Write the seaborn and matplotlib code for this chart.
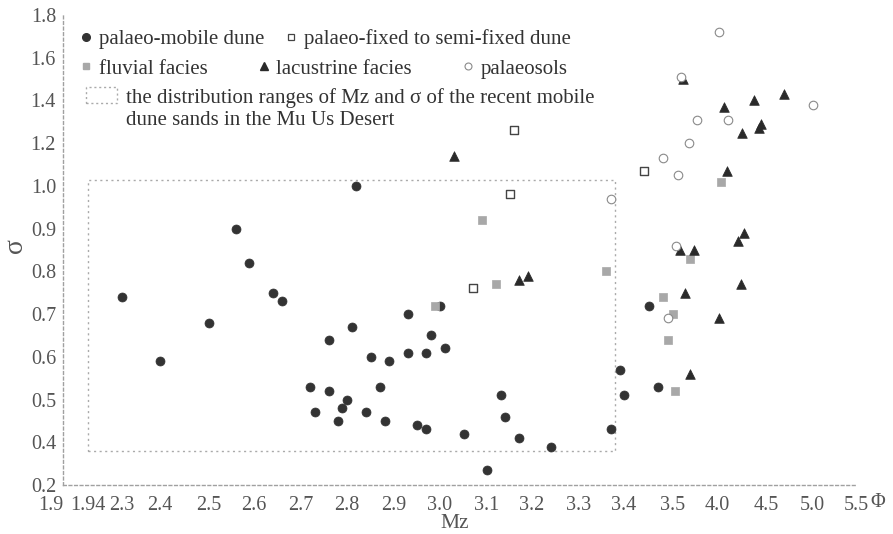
import numpy as np
import pandas as pd
import seaborn as sns
import matplotlib.pyplot as plt
from matplotlib.lines import Line2D
from matplotlib.patches import Patch, Rectangle

# grain size parameters (Mz in phi, sigma)
mobile_mz = [2.30, 2.40, 2.50, 2.56, 2.59, 2.64, 2.66, 2.82, 2.93, 3.00, 2.98, 2.81, 2.76, 2.85,
             2.89, 2.93, 2.97, 3.01, 2.72, 2.76, 2.87, 2.80, 2.79, 2.73, 2.84, 2.78, 2.88, 2.95,
             2.97, 3.13, 3.14, 3.05, 3.17, 3.24, 3.10, 3.39, 3.40, 3.37, 3.45, 3.47]
mobile_sd = [0.74, 0.59, 0.68, 0.90, 0.82, 0.75, 0.73, 1.00, 0.70, 0.72, 0.65, 0.67, 0.64, 0.60,
             0.59, 0.61, 0.61, 0.62, 0.53, 0.52, 0.53, 0.50, 0.48, 0.47, 0.47, 0.45, 0.45, 0.44,
             0.43, 0.51, 0.46, 0.42, 0.41, 0.38, 0.27, 0.57, 0.51, 0.43, 0.72, 0.53]

fixed_mz = [3.16, 3.15, 3.07, 3.44]
fixed_sd = [1.26, 0.98, 0.76, 1.07]

fluvial_mz = [3.09, 3.12, 3.36, 2.99, 4.04, 3.69, 3.48, 3.50, 3.49, 3.52]
fluvial_sd = [0.92, 0.77, 0.80, 0.72, 1.02, 0.83, 0.74, 0.70, 0.64, 0.52]

lacustrine_mz = [3.03, 3.17, 3.19, 3.61, 4.07, 4.38, 4.70, 4.45, 4.43, 4.26, 4.10, 4.28, 4.21,
                 3.58, 3.74, 4.24, 3.64, 4.02, 3.69]
lacustrine_sd = [1.14, 0.78, 0.79, 1.50, 1.37, 1.40, 1.43, 1.29, 1.27, 1.25, 1.07, 0.89, 0.87,
                 0.85, 0.85, 0.77, 0.75, 0.69, 0.56]

palaeosol_mz = [3.37, 4.02, 3.59, 5.01, 3.77, 4.11, 3.68, 3.48, 3.56, 3.53, 3.49]
palaeosol_sd = [0.97, 1.72, 1.51, 1.38, 1.31, 1.31, 1.20, 1.13, 1.05, 0.86, 0.69]

# recent mobile dune range box
box_mz = [1.94, 3.38]
box_sd = [0.36, 1.03]

x_ticks = [1.9, 1.94, 2.3, 2.4, 2.5, 2.6, 2.7, 2.8, 2.9, 3.0, 3.1, 3.2, 3.3, 3.4, 3.5, 4.0, 4.5, 5.0, 5.5]
y_ticks = [0.2, 0.4, 0.5, 0.6, 0.7, 0.8, 0.9, 1.0, 1.2, 1.4, 1.6, 1.8]

# broken axis in the original: where each tick sits along the axis
x_pos = [63, 88, 122, 160, 209, 254, 301, 347, 394, 440, 487, 532, 579, 624, 673, 717, 766, 812, 856]
y_pos = list(range(len(y_ticks)))

sns.set_style("white")
plt.rcParams['font.family'] = ['Liberation Serif', 'DejaVu Serif']

fig = plt.figure(figsize=(8.93, 5.34), dpi=100)
ax = fig.add_axes([63 / 893, 49 / 534, 793 / 893, 470 / 534])

ax.set_xscale('function', functions=(lambda v: np.interp(v, x_ticks, x_pos),
                                     lambda p: np.interp(p, x_pos, x_ticks)))
ax.set_yscale('function', functions=(lambda v: np.interp(v, y_ticks, y_pos),
                                     lambda p: np.interp(p, y_pos, y_ticks)))

ax.add_patch(Rectangle((box_mz[0], box_sd[0]), box_mz[1] - box_mz[0], box_sd[1] - box_sd[0],
                       fill=False, edgecolor='#aaaaaa', linestyle=(0, (1.5, 2.5)), linewidth=1))

sns.scatterplot(x=mobile_mz, y=mobile_sd, ax=ax, marker='o', s=42, color='#333333',
                edgecolor='#333333', linewidth=0.5)
sns.scatterplot(x=fixed_mz, y=fixed_sd, ax=ax, marker='s', s=34, facecolor='white',
                edgecolor='#444444', linewidth=1.0)
sns.scatterplot(x=fluvial_mz, y=fluvial_sd, ax=ax, marker='s', s=34, color='#a8a8a8',
                edgecolor='#a8a8a8', linewidth=0.5)
sns.scatterplot(x=lacustrine_mz, y=lacustrine_sd, ax=ax, marker='^', s=48, color='#2a2a2a',
                edgecolor='#2a2a2a', linewidth=0.5)
sns.scatterplot(x=palaeosol_mz, y=palaeosol_sd, ax=ax, marker='o', s=38, facecolor='white',
                edgecolor='#8a8a8a', linewidth=0.8)

ax.set_xlim(1.9, 5.5)
ax.set_ylim(0.2, 1.8)
ax.set_xticks(x_ticks)
ax.set_xticklabels([f'{t:g}' if t not in (3.0, 4.0, 5.0) else f'{t:.1f}' for t in x_ticks])
ax.set_yticks(y_ticks)
ax.set_yticklabels([f'{t:.1f}' for t in y_ticks])
ax.minorticks_off()
ax.get_xticklabels()[0].set_ha('right')

ax.tick_params(axis='both', labelsize=14.5, labelcolor='#555555', color='#999999',
               length=3, width=0.8, direction='out', pad=2)
ax.tick_params(axis='x', pad=5)
for side in ['top', 'right']:
    ax.spines[side].set_visible(False)
for side in ['left', 'bottom']:
    ax.spines[side].set_color('#a0a0a0')
    ax.spines[side].set_linestyle((0, (2, 2)))
    ax.spines[side].set_linewidth(1)

ax.set_xlabel('Mz', fontsize=15.5, color='#555555')
ax.xaxis.set_label_coords(0.494, -0.062)
ax.xaxis.label.set_va('top')
ax.set_ylabel('σ', fontsize=20, color='#555555')
ax.yaxis.set_label_coords(-0.044, 0.51)
ax.text(1.028, -0.037, 'Φ', transform=ax.transAxes, fontsize=14.5, color='#555555',
        ha='center', va='center')

# legend, laid out in three rows as in the paper
leg_kw = dict(frameon=False, fontsize=15, handletextpad=0.3, borderpad=0, borderaxespad=0,
              labelcolor='#333333')
h1 = [Line2D([], [], marker='o', ls='', ms=5.5, color='#333333'),
      Line2D([], [], marker='s', ls='', ms=5, mfc='white', mec='#444444', mew=0.9)]
leg1 = ax.legend(h1, ['palaeo-mobile dune', 'palaeo-fixed to semi-fixed dune'], ncol=2,
                 handlelength=0.6, columnspacing=1.0, loc='upper left',
                 bbox_to_anchor=(80 / 893, 1 - 29 / 534), bbox_transform=fig.transFigure, **leg_kw)
ax.add_artist(leg1)
h2 = [Line2D([], [], marker='s', ls='', ms=5, color='#a8a8a8'),
      Line2D([], [], marker='^', ls='', ms=6, color='#2a2a2a'),
      Line2D([], [], marker='o', ls='', ms=5, mfc='white', mec='#8a8a8a', mew=0.8)]
leg2 = ax.legend(h2, ['fluvial facies', 'lacustrine facies', 'palaeosols'], ncol=3,
                 handlelength=0.6, columnspacing=2.4, loc='upper left',
                 bbox_to_anchor=(80 / 893, 1 - 59 / 534), bbox_transform=fig.transFigure, **leg_kw)
ax.add_artist(leg2)
h3 = [Patch(facecolor='white', edgecolor='#aaaaaa', linestyle=(0, (1.5, 2)), linewidth=1)]
leg3 = ax.legend(h3, ['the distribution ranges of Mz and σ of the recent mobile\ndune sands in the Mu Us Desert'],
                 handlelength=1.5, handleheight=0.8, loc='upper left',
                 bbox_to_anchor=(86 / 893, 1 - 88 / 534), bbox_transform=fig.transFigure,
                 **{**leg_kw, 'handletextpad': 0.4})
# lift the box handle so it sits beside the first line of text
box_handle = leg3.get_patches()[0]
box_handle.set_y(box_handle.get_y() + 10)

fig.savefig('out.png', dpi=100)
